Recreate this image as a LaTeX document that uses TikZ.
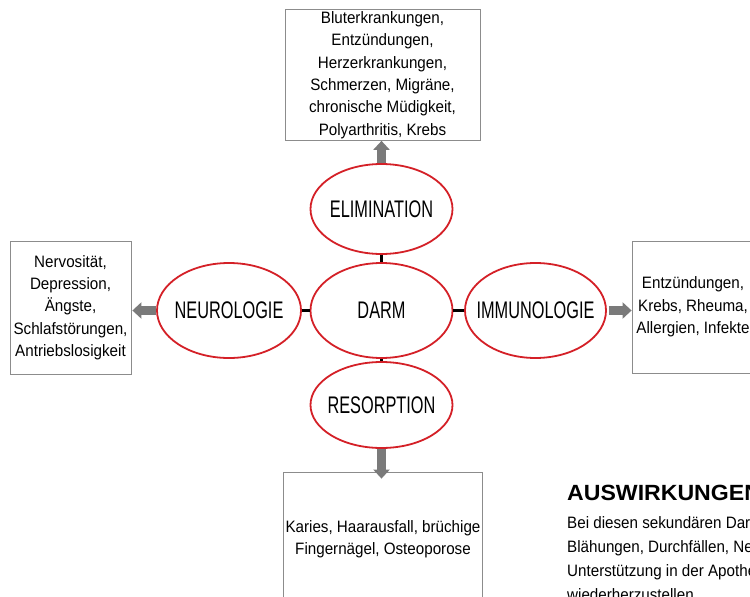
\documentclass[tikz,border=0pt]{standalone}
\usepackage{fontspec}
\setmainfont[FakeStretch=0.92]{Liberation Sans}
\newfontfamily\ringfont[FakeStretch=0.68]{Liberation Sans}
\newfontfamily\headfont[FakeStretch=1.05]{Liberation Sans}
\usetikzlibrary{arrows.meta,shapes.geometric}
\definecolor{ringred}{HTML}{D42027}
\definecolor{arrowgray}{HTML}{7A7A7A}
\definecolor{boxgray}{HTML}{8C8C8C}
\newcommand{\ringtext}[1]{\makebox[0pt]{#1}}
\begin{document}
\begin{tikzpicture}[x=1pt,y=-1pt,
  area/.style={ellipse,draw=ringred,line width=1.8pt,minimum width=142pt,minimum height=95pt,inner sep=0pt,font=\ringfont\fontsize{24}{26}\selectfont},
  effect/.style={draw=boxgray,line width=0.8pt,align=center,inner sep=2pt,font=\fontsize{16.5}{22.3}\selectfont},
  bigarrow/.style={draw=arrowgray,line width=9pt,-{Triangle[width=16pt,length=9pt]}},
  link/.style={draw=black,line width=2.6pt}]
\useasboundingbox (0,0) rectangle (750,597);
\clip (0,0) rectangle (750,597);
% Kreise
\node[area] (darm) at (381.5,310.5) {\ringtext{DARM}};
\node[area,minimum height=90pt] (elim) at (381.5,209) {\ringtext{ELIMINATION}};
\node[area,minimum height=86pt] (reso) at (381.5,405) {\ringtext{RESORPTION}};
\node[area,minimum width=144pt] (neuro) at (229,310.5) {\ringtext{NEUROLOGIE}};
\node[area,minimum width=141pt] (immuno) at (535.5,310.5) {\ringtext{IMMUNOLOGIE}};
% Kaesten
\node[effect,minimum width=195pt,minimum height=130pt] (elimbox) at (382.5,75) {Bluterkrankungen,\\Entzündungen,\\Herzerkrankungen,\\Schmerzen, Migräne,\\chronische Müdigkeit,\\Polyarthritis, Krebs};
\node[effect,minimum width=121pt,minimum height=133pt] (neurobox) at (70.5,307.5) {Nervosität,\\Depression,\\Ängste,\\Schlafstörungen,\\Antriebslosigkeit};
\node[effect,minimum width=122pt,minimum height=132pt] (immunobox) at (693,307) {Entzündungen,\\Krebs, Rheuma,\\Allergien, Infekte};
\node[effect,minimum width=196pt,minimum height=134pt] (resobox) at (383,539) {Karies, Haarausfall, brüchige\\Fingernägel, Osteoporose};
% Verbindungen
\draw[link] (elim) -- (darm);
\draw[link] (reso) -- (darm);
\draw[link] (neuro) -- (darm);
\draw[link] (immuno) -- (darm);
\draw[bigarrow] (elim.north) -- (elim.north |- elimbox.south);
\draw[bigarrow,shorten >=-7pt] (reso.south) -- (reso.south |- resobox.north);
\draw[bigarrow,shorten >=1pt] (neuro.west) -- (neuro.west -| neurobox.east);
\draw[bigarrow,shorten <=2pt] (immuno.east) -- (immuno.east -| immunobox.west);
% Text unten rechts
\node[anchor=base west,inner sep=0pt,font=\headfont\bfseries\fontsize{22}{24}\selectfont] (head) at (567,500) {AUSWIRKUNGEN};
\node[anchor=base west,inner sep=0pt,align=left,font=\fontsize{16.5}{24}\selectfont] (body) at (567,600) {Bei diesen sekundären Darm\\Blähungen, Durchfällen, Ne\\Unterstützung in der Apothe\\wiederherzustellen.};
\end{tikzpicture}
\end{document}
